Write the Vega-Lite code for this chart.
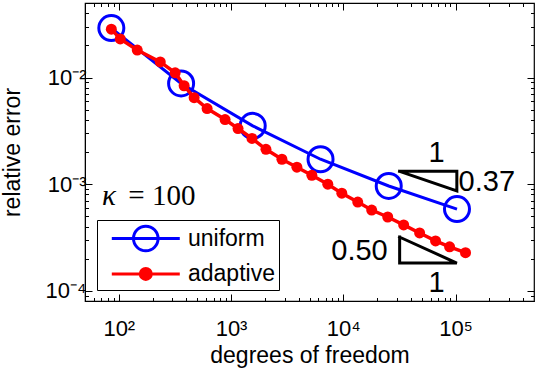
{
  "$schema": "https://vega.github.io/schema/vega-lite/v6.json",
  "width": 449,
  "height": 298,
  "autosize": {"type": "none"},
  "padding": {"left": 85, "top": 3, "right": 2, "bottom": 68},
  "background": "white",
  "config": {
    "view": {"stroke": "black", "strokeWidth": 1.2},
    "axis": {
      "labelFont": "Liberation Sans",
      "labelFontSize": 22,
      "labelColor": "black",
      "titleFont": "Liberation Sans",
      "titleFontSize": 23,
      "titleFontWeight": "normal",
      "titleColor": "black",
      "ticks": true,
      "tickColor": "black",
      "tickWidth": 1,
      "domainColor": "black",
      "grid": false,
      "labelOverlap": false,
      "labelFlush": false
    }
  },
  "datasets": {
    "curves": [
      {"s": "uniform", "dof": 85.8, "err": 0.0291},
      {"s": "uniform", "dof": 359, "err": 0.00879},
      {"s": "uniform", "dof": 1560, "err": 0.00352},
      {"s": "uniform", "dof": 6270, "err": 0.00171},
      {"s": "uniform", "dof": 25400, "err": 0.00096},
      {"s": "uniform", "dof": 103000, "err": 0.000583},
      {"s": "adaptive", "dof": 85.8, "err": 0.0284},
      {"s": "adaptive", "dof": 103, "err": 0.0230},
      {"s": "adaptive", "dof": 146, "err": 0.0181},
      {"s": "adaptive", "dof": 234, "err": 0.0140},
      {"s": "adaptive", "dof": 318, "err": 0.01107},
      {"s": "adaptive", "dof": 382, "err": 0.00837},
      {"s": "adaptive", "dof": 469, "err": 0.00647},
      {"s": "adaptive", "dof": 612, "err": 0.00511},
      {"s": "adaptive", "dof": 885, "err": 0.00403},
      {"s": "adaptive", "dof": 1154, "err": 0.00332},
      {"s": "adaptive", "dof": 1537, "err": 0.00268},
      {"s": "adaptive", "dof": 2047, "err": 0.00212},
      {"s": "adaptive", "dof": 2840, "err": 0.00171},
      {"s": "adaptive", "dof": 3862, "err": 0.00144},
      {"s": "adaptive", "dof": 5248, "err": 0.00121},
      {"s": "adaptive", "dof": 7278, "err": 0.000998},
      {"s": "adaptive", "dof": 9700, "err": 0.000822},
      {"s": "adaptive", "dof": 13450, "err": 0.000678},
      {"s": "adaptive", "dof": 17900, "err": 0.000571},
      {"s": "adaptive", "dof": 24880, "err": 0.000491},
      {"s": "adaptive", "dof": 34500, "err": 0.000414},
      {"s": "adaptive", "dof": 47860, "err": 0.000348},
      {"s": "adaptive", "dof": 66400, "err": 0.000293},
      {"s": "adaptive", "dof": 88500, "err": 0.000258},
      {"s": "adaptive", "dof": 122700, "err": 0.000227}
    ],
    "tri": [
      {"t": "A", "k": 0, "dof": 31770, "err": 0.001318},
      {"t": "A", "k": 1, "dof": 102700, "err": 0.001318},
      {"t": "A", "k": 2, "dof": 102700, "err": 0.000865},
      {"t": "A", "k": 3, "dof": 31770, "err": 0.001318},
      {"t": "B", "k": 0, "dof": 31770, "err": 0.000318},
      {"t": "B", "k": 1, "dof": 31770, "err": 0.0001816},
      {"t": "B", "k": 2, "dof": 102700, "err": 0.0001816},
      {"t": "B", "k": 3, "dof": 31770, "err": 0.000318}
    ],
    "notes": [
      {"txt": "1", "kind": "c", "dof": 67800, "err": 0.00194},
      {"txt": "1", "kind": "c", "dof": 67800, "err": 0.000118},
      {"txt": "0.37", "kind": "l", "dof": 106400, "err": 0.001047},
      {"txt": "0.50", "kind": "r", "dof": 24900, "err": 0.000238},
      {"txt": "κ", "kind": "k", "dof": 70.9, "err": 0.000635},
      {"txt": "= 100", "kind": "e", "dof": 121.5, "err": 0.000635}
    ]
  },
  "layer": [
    {
      "data": {"name": "curves"},
      "transform": [{"filter": "datum.s === 'uniform'"}],
      "mark": {"type": "line", "strokeWidth": 3},
      "encoding": {
        "x": {
          "field": "dof", "type": "quantitative",
          "scale": {"type": "log", "domain": [50, 500000], "nice": false},
          "axis": {
            "orient": "bottom",
            "title": "degrees of freedom",
            "values": [60, 70, 80, 90, 100, 200, 300, 400, 500, 600, 700, 800, 900, 1000, 2000, 3000, 4000, 5000, 6000, 7000, 8000, 9000, 10000, 20000, 30000, 40000, 50000, 60000, 70000, 80000, 90000, 100000, 200000, 300000, 400000],
            "labelExpr": "datum.value == 100 ? '10²' : datum.value == 1000 ? '10³' : datum.value == 10000 ? '10⁴' : datum.value == 100000 ? '10⁵' : ''",
            "tickSize": -7,
            "tickDash": {"condition": {"test": "indexof([100, 1000, 10000, 100000], datum.value) >= 0", "value": [20, 1]}, "value": [3.5, 20]},
            "labelPadding": 24,
            "titlePadding": 5,
            "domain": true
          }
        },
        "y": {
          "field": "err", "type": "quantitative",
          "scale": {"type": "log", "domain": [0.00008, 0.05], "nice": false},
          "axis": {
            "orient": "left",
            "title": "relative error",
            "values": [0.00009, 0.0001, 0.0002, 0.0003, 0.0004, 0.0005, 0.0006, 0.0007, 0.0008, 0.0009, 0.001, 0.002, 0.003, 0.004, 0.005, 0.006, 0.007, 0.008, 0.009, 0.01, 0.02, 0.03, 0.04],
            "labelExpr": "datum.value == 0.01 ? '10⁻²' : datum.value == 0.001 ? '10⁻³' : datum.value == 0.0001 ? '10⁻⁴' : ''",
            "tickSize": -7,
            "tickDash": {"condition": {"test": "indexof([0.0001, 0.001, 0.01], datum.value) >= 0", "value": [20, 1]}, "value": [3.5, 20]},
            "labelPadding": 6,
            "titlePadding": 21,
            "domain": true
          }
        },
        "color": {
          "field": "s", "type": "nominal",
          "scale": {"domain": ["uniform", "adaptive"], "range": ["#0000ff", "#ff0000"]},
          "legend": {
            "title": null,
            "orient": "bottom-left",
            "offset": 11.5,
            "strokeColor": "black",
            "fillColor": "white",
            "padding": 4,
            "rowPadding": 2.4,
            "labelFont": "Liberation Sans",
            "labelFontSize": 23,
            "labelColor": "black",
            "labelOffset": 58,
            "symbolSize": 676,
            "symbolStrokeWidth": 3,
            "symbolFillColor": "transparent",
            "encode": {
              "symbols": {
                "update": {
                  "shape": {"signal": "datum.value === 'uniform' ? 'M-0.285,0L4.945,0M3.276,0A0.946,0.946,0,1,1,1.384,0A0.946,0.946,0,1,1,3.276,0Z' : 'M-0.285,0L4.945,0M2.753,0A0.423,0.423,0,1,1,1.907,0A0.423,0.423,0,1,1,2.753,0Z'"},
                  "fill": {"signal": "datum.value === 'uniform' ? 'transparent' : '#ff0000'"},
                  "fillOpacity": {"signal": "datum.value === 'uniform' ? 0 : 1"},
                  "stroke": {"signal": "datum.value === 'uniform' ? '#0000ff' : '#ff0000'"},
                  "strokeWidth": {"value": 3},
                  "opacity": {"value": 1}
                }
              }
            }
          }
        }
      }
    },
    {
      "data": {"name": "curves"},
      "transform": [{"filter": "datum.s === 'uniform'"}],
      "mark": {"type": "point", "shape": "circle", "filled": false, "size": 625, "strokeWidth": 3, "opacity": 1},
      "encoding": {
        "x": {
          "field": "dof", "type": "quantitative",
          "axis": {
            "orient": "top", "title": null, "labels": false, "domain": false,
            "values": [60, 70, 80, 90, 100, 200, 300, 400, 500, 600, 700, 800, 900, 1000, 2000, 3000, 4000, 5000, 6000, 7000, 8000, 9000, 10000, 20000, 30000, 40000, 50000, 60000, 70000, 80000, 90000, 100000, 200000, 300000, 400000],
            "tickSize": -7,
            "tickDash": {"condition": {"test": "indexof([100, 1000, 10000, 100000], datum.value) >= 0", "value": [20, 1]}, "value": [3.5, 20]}
          }
        },
        "y": {
          "field": "err", "type": "quantitative",
          "axis": {
            "orient": "right", "title": null, "labels": false, "domain": false,
            "values": [0.00009, 0.0001, 0.0002, 0.0003, 0.0004, 0.0005, 0.0006, 0.0007, 0.0008, 0.0009, 0.001, 0.002, 0.003, 0.004, 0.005, 0.006, 0.007, 0.008, 0.009, 0.01, 0.02, 0.03, 0.04],
            "tickSize": -7,
            "tickDash": {"condition": {"test": "indexof([0.0001, 0.001, 0.01], datum.value) >= 0", "value": [20, 1]}, "value": [3.5, 20]}
          }
        },
        "color": {"field": "s", "type": "nominal"}
      }
    },
    {
      "data": {"name": "curves"},
      "transform": [{"filter": "datum.s === 'adaptive'"}],
      "mark": {"type": "line", "strokeWidth": 3.5},
      "encoding": {
        "x": {"field": "dof", "type": "quantitative", "axis": null},
        "y": {"field": "err", "type": "quantitative", "axis": null},
        "color": {"field": "s", "type": "nominal"}
      }
    },
    {
      "data": {"name": "curves"},
      "transform": [{"filter": "datum.s === 'adaptive'"}],
      "mark": {"type": "point", "shape": "circle", "filled": true, "size": 121, "opacity": 1},
      "encoding": {
        "x": {"field": "dof", "type": "quantitative", "axis": null},
        "y": {"field": "err", "type": "quantitative", "axis": null},
        "color": {"field": "s", "type": "nominal"}
      }
    },
    {
      "data": {"name": "tri"},
      "mark": {"type": "line", "strokeWidth": 3, "color": "black", "strokeJoin": "miter", "strokeCap": "square"},
      "encoding": {
        "x": {"field": "dof", "type": "quantitative", "axis": null},
        "y": {"field": "err", "type": "quantitative", "axis": null},
        "detail": {"field": "t"},
        "order": {"field": "k", "type": "quantitative"}
      }
    },
    {
      "data": {"name": "notes"},
      "transform": [{"filter": "datum.kind === 'c'"}],
      "mark": {"type": "text", "font": "Liberation Sans", "fontSize": 29, "align": "center", "baseline": "middle", "color": "black"},
      "encoding": {
        "x": {"field": "dof", "type": "quantitative", "axis": null},
        "y": {"field": "err", "type": "quantitative", "axis": null},
        "text": {"field": "txt"}
      }
    },
    {
      "data": {"name": "notes"},
      "transform": [{"filter": "datum.kind === 'l'"}],
      "mark": {"type": "text", "font": "Liberation Sans", "fontSize": 29, "align": "left", "baseline": "middle", "color": "black"},
      "encoding": {
        "x": {"field": "dof", "type": "quantitative", "axis": null},
        "y": {"field": "err", "type": "quantitative", "axis": null},
        "text": {"field": "txt"}
      }
    },
    {
      "data": {"name": "notes"},
      "transform": [{"filter": "datum.kind === 'r'"}],
      "mark": {"type": "text", "font": "Liberation Sans", "fontSize": 29, "align": "right", "baseline": "middle", "color": "black"},
      "encoding": {
        "x": {"field": "dof", "type": "quantitative", "axis": null},
        "y": {"field": "err", "type": "quantitative", "axis": null},
        "text": {"field": "txt"}
      }
    },
    {
      "data": {"name": "notes"},
      "transform": [{"filter": "datum.kind === 'k'"}],
      "mark": {"type": "text", "font": "Liberation Serif", "fontSize": 29, "fontStyle": "italic", "align": "left", "baseline": "alphabetic", "color": "black"},
      "encoding": {
        "x": {"field": "dof", "type": "quantitative", "axis": null},
        "y": {"field": "err", "type": "quantitative", "axis": null},
        "text": {"field": "txt"}
      }
    },
    {
      "data": {"name": "notes"},
      "transform": [{"filter": "datum.kind === 'e'"}],
      "mark": {"type": "text", "font": "Liberation Serif", "fontSize": 29, "align": "left", "baseline": "alphabetic", "color": "black"},
      "encoding": {
        "x": {"field": "dof", "type": "quantitative", "axis": null},
        "y": {"field": "err", "type": "quantitative", "axis": null},
        "text": {"field": "txt"}
      }
    }
  ],
  "resolve": {"axis": {"x": "independent", "y": "independent"}}
}
